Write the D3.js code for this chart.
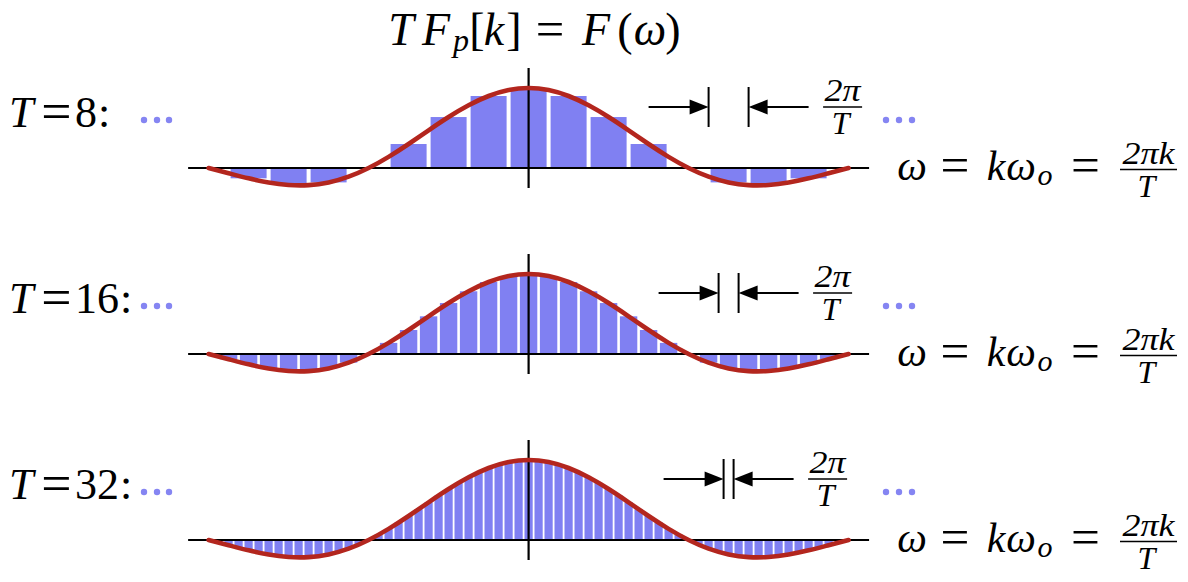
<!DOCTYPE html>
<html>
<head>
<meta charset="utf-8">
<script src="https://cdn.jsdelivr.net/npm/d3@7"></script>
<style>
body { margin: 0; background: #fff; }
svg text { font-family: "Liberation Serif", serif; fill: #000; }
svg text.it { font-style: italic; }
</style>
</head>
<body>
<svg id="chart" width="1188" height="582"></svg>
<script>
// periods shown in the three panels
const periods = [8, 16, 32];

// sample heights T*Fp[k], k = -(n-1)/2 .. (n-1)/2
const samplesT8 = [-0.129, -0.212, -0.180, 0, 0.300, 0.637, 0.900, 1, 0.900, 0.637, 0.300, 0, -0.180, -0.212, -0.129];
const samplesT16 = [-0.065, -0.129, -0.181, -0.212, -0.214, -0.180, -0.108, 0, 0.139, 0.300, 0.471, 0.637, 0.784, 0.900, 0.975,
    1, 0.975, 0.900, 0.784, 0.637, 0.471, 0.300, 0.139, 0, -0.108, -0.180, -0.214, -0.212, -0.181, -0.129, -0.065];
const samplesT32 = [-0.032, -0.065, -0.098, -0.129, -0.157, -0.181, -0.200, -0.212, -0.217, -0.214, -0.202, -0.180, -0.149, -0.108, -0.058, 0,
    0.066, 0.139, 0.218, 0.300, 0.385, 0.471, 0.555, 0.637, 0.714, 0.784, 0.847, 0.900, 0.943, 0.975, 0.994,
    1, 0.994, 0.975, 0.943, 0.900, 0.847, 0.784, 0.714, 0.637, 0.555, 0.471, 0.385, 0.300, 0.218, 0.139, 0.066,
    0, -0.058, -0.108, -0.149, -0.180, -0.202, -0.214, -0.217, -0.212, -0.200, -0.181, -0.157, -0.129, -0.098, -0.065, -0.032];
const samples = [samplesT8, samplesT16, samplesT32];

// red envelope F(w), w in units of pi
const curveOmega = [-2, -1.875, -1.75, -1.625, -1.5, -1.375, -1.25, -1.125, -1, -0.875, -0.75, -0.625, -0.5, -0.375, -0.25, -0.125,
    0, 0.125, 0.25, 0.375, 0.5, 0.625, 0.75, 0.875, 1, 1.125, 1.25, 1.375, 1.5, 1.625, 1.75, 1.875, 2];
const curveF = [0, -0.065, -0.129, -0.181, -0.212, -0.214, -0.180, -0.108, 0, 0.139, 0.300, 0.471, 0.637, 0.784, 0.900, 0.975,
    1, 0.975, 0.900, 0.784, 0.637, 0.471, 0.300, 0.139, 0, -0.108, -0.180, -0.214, -0.212, -0.181, -0.129, -0.065, 0];

// where the 2pi/T spacing is marked (units of pi)
const markerOmega = 1.25;

const barColor = "#8080f2";
const curveColor = "#b3261e";
const dotColor = "#8585f2";
const axisY = [168, 354, 540];
const barGap = [4, 2.6, 1.8];

let svg = d3.select("#chart");
let x = d3.scaleLinear().domain([-2, 2]).range([208.6, 848.6]);

function put(g, str, px, py, size, cls, anchor) {
    return g.append("text")
            .attr("x", px)
            .attr("y", py)
            .attr("font-size", size)
            .attr("class", cls || null)
            .attr("text-anchor", anchor || "middle")
            .text(str);
}

// Liberation's "=" is narrow, so it is drawn a size up and nudged down
function eq(g, cx, baseline, size, grow) {
    let s = size * (grow || 1.22);
    return put(g, "=", cx, baseline + (s - size) * 0.25, s);
}

function fraction(g, top, bottom, cx, barY, width, size, topLen) {
    put(g, top, cx, barY - 6, size, "it").attr("textLength", topLen).attr("lengthAdjust", "spacingAndGlyphs");
    g.append("line")
        .attr("x1", cx - width / 2).attr("x2", cx + width / 2)
        .attr("y1", barY).attr("y2", barY)
        .attr("stroke", "#000").attr("stroke-width", 1.5);
    put(g, bottom, cx - 2, barY + 27, size, "it");
}

function dots(g, xs, cy) {
    g.selectAll("circle.dot").data(xs).join("circle")
        .attr("class", "dot")
        .attr("cx", d => d).attr("cy", cy).attr("r", 3.2)
        .attr("fill", dotColor);
}

// title  T F_p[k] = F(w)
let title = svg.append("g");
put(title, "T", 401, 45, 46, "it");
put(title, "F", 436, 45, 46, "it");
put(title, "p", 461, 51, 32, "it");
put(title, "[", 477, 45, 46);
put(title, "k", 494, 45, 46, "it");
put(title, "]", 514, 45, 46);
eq(title, 550, 45, 46, 1.1);
put(title, "F", 596, 45, 46, "it");
put(title, "(", 625, 45, 46);
put(title, "\u03C9", 650, 45, 46, "it");
put(title, ")", 673, 45, 46);

function drawPanel(i) {
    let T = periods[i];
    let data = samples[i];
    let base = axisY[i];
    let g = svg.append("g");
    let y = d3.scaleLinear().domain([0, 1]).range([base, base - 80]);
    let w0 = 2 / T;
    let half = (data.length - 1) / 2;
    let step = x(w0) - x(0);
    let bw = step - barGap[i];

    g.selectAll("rect.bar").data(data).join("rect")
        .attr("class", "bar")
        .attr("x", (d, j) => x((j - half) * w0) - bw / 2)
        .attr("y", d => Math.min(y(d), y(0)))
        .attr("width", bw)
        .attr("height", d => Math.abs(y(d) - y(0)))
        .attr("fill", barColor);

    // axes
    g.append("line")
        .attr("x1", x(-2.128)).attr("x2", x(2.128))
        .attr("y1", y(0)).attr("y2", y(0))
        .attr("stroke", "#000").attr("stroke-width", 2.2);
    g.append("line")
        .attr("x1", x(0)).attr("x2", x(0))
        .attr("y1", base - 100).attr("y2", base + 20)
        .attr("stroke", "#000").attr("stroke-width", 2.2);

    let line = d3.line()
                 .x((d, j) => x(curveOmega[j]))
                 .y(d => y(d))
                 .curve(d3.curveNatural);
    g.append("path")
        .datum(curveF)
        .attr("d", line)
        .attr("fill", "none")
        .attr("stroke", curveColor)
        .attr("stroke-width", 4.6)
        .attr("stroke-linecap", "round");

    // spacing marker
    let ay = base - 61;
    let t1 = x(markerOmega - w0 / 2);
    let t2 = x(markerOmega + w0 / 2);
    for (const tx of [t1, t2]) {
        g.append("line")
            .attr("x1", tx).attr("x2", tx)
            .attr("y1", ay - 20).attr("y2", ay + 20)
            .attr("stroke", "#000").attr("stroke-width", 2);
    }
    g.append("line").attr("x1", t1 - 60).attr("x2", t1 - 10).attr("y1", ay).attr("y2", ay)
        .attr("stroke", "#000").attr("stroke-width", 2);
    g.append("line").attr("x1", t2 + 10).attr("x2", t2 + 60).attr("y1", ay).attr("y2", ay)
        .attr("stroke", "#000").attr("stroke-width", 2);
    g.append("path").attr("d", `M${t1},${ay}L${t1 - 19},${ay - 7.5}L${t1 - 19},${ay + 7.5}Z`).attr("fill", "#000");
    g.append("path").attr("d", `M${t2},${ay}L${t2 + 19},${ay - 7.5}L${t2 + 19},${ay + 7.5}Z`).attr("fill", "#000");
    fraction(g, "2\u03C0", "T", t2 + 60 + 15 + 19, ay, 39, 32, 36);

    // left label T=..:
    let lb = base - 41;
    put(g, "T", 9, lb, 44, "it", "start");
    eq(g, 56.5, lb, 44);
    let num = String(T);
    put(g, num, 75, lb, 44, null, "start");
    put(g, ":", 75 + 22 * num.length + 1, lb, 44, null, "start");

    dots(g.append("g"), [144, 157, 169], base - 48);
    dots(g.append("g"), [886, 899, 912], base - 48);

    // right label  w = k w_o = 2pi k / T
    let rb = base + 12;
    put(g, "\u03C9", 912, rb, 42, "it");
    eq(g, 955, rb, 42);
    put(g, "k", 996, rb, 42, "it");
    put(g, "\u03C9", 1021, rb, 42, "it");
    put(g, "o", 1045, rb + 5, 30, "it");
    eq(g, 1085.5, rb, 42);
    fraction(g, "2\u03C0k", "T", 1148.5, base + 1.5, 57, 32, 52);
}

periods.forEach((T, i) => drawPanel(i));
</script>
</body>
</html>
